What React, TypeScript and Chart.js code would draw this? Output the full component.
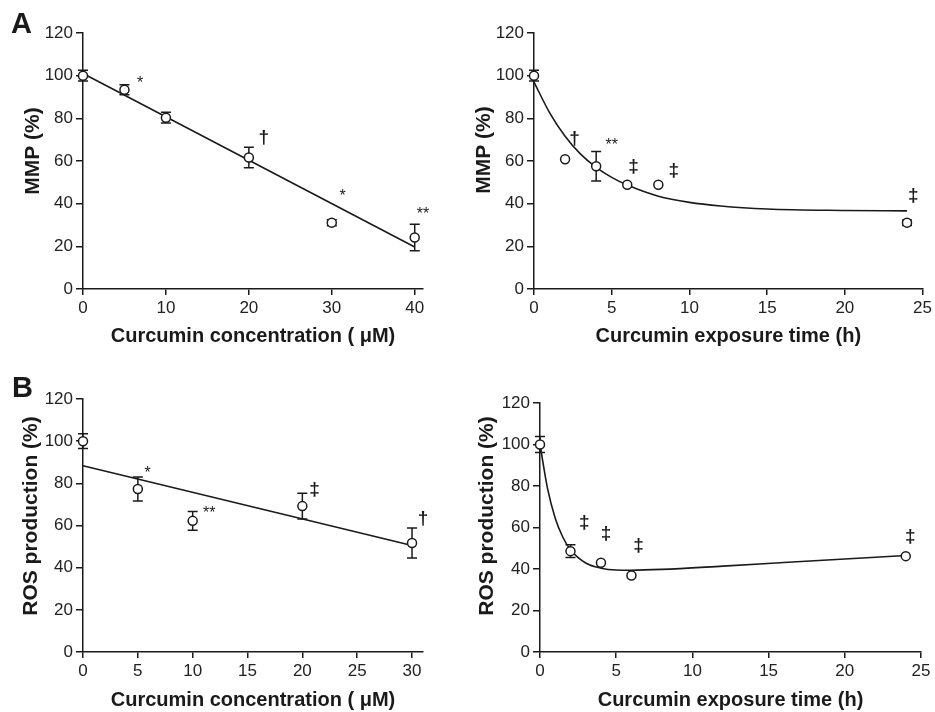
import React, { useEffect, useRef } from "react";
import { Chart, registerables } from "chart.js";

Chart.register(...registerables);

const FONT = '"Liberation Sans", Arial, Helvetica, sans-serif';
const INK = "#1a1a1a";

// ---- Panel A (left): MMP vs curcumin concentration ----
const concA = [0, 5, 10, 20, 30, 40];
const mmpConc = [100, 93.4, 80.3, 61.6, 31.1, 24.1];
const mmpConcErr = [2.5, 2.4, 2.5, 4.8, 1.4, 6.2];
const mmpConcFitX = [0, 40];
const mmpConcFitY = [101, 19.7];
const mmpConcMarkText = ["*", "†", "*", "**"];
const mmpConcMarkX = [6.9, 21.8, 31.3, 41];
const mmpConcMarkY = [96.2, 71, 43.4, 35];

// ---- Panel A (right): MMP vs exposure time ----
const timeA = [0, 2, 4, 6, 8, 24];
const mmpTime = [100, 60.8, 57.5, 48.9, 48.9, 31.1];
const mmpTimeErr = [2.5, 0, 6.9, 0, 0, 1.3];
const mmpTimeFitX = [0, 1, 2, 3, 4, 5, 6, 8, 10, 12, 15, 20, 24];
const mmpTimeFitY = [97, 82.7, 71.6, 63.2, 57.0, 52.3, 48.7, 43.5, 40.6, 38.9, 37.5, 36.8, 36.6];
const mmpTimeMarkText = ["†", "**", "‡", "‡", "‡"];
const mmpTimeMarkX = [2.6, 5.0, 6.4, 9.0, 24.4];
const mmpTimeMarkY = [70.5, 67.3, 57.2, 55.2, 43.9];

// ---- Panel B (left): ROS vs curcumin concentration ----
const concB = [0, 5, 10, 20, 30];
const rosConc = [100, 77.3, 62.2, 69.2, 51.7];
const rosConcErr = [3.5, 5.7, 4.4, 6.1, 7.1];
const rosConcFitX = [0, 30];
const rosConcFitY = [88.3, 50.5];
const rosConcMarkText = ["*", "**", "‡", "†"];
const rosConcMarkX = [5.9, 11.5, 21.1, 31.0];
const rosConcMarkY = [84.8, 65.7, 77, 63.3];

// ---- Panel B (right): ROS vs exposure time ----
const timeB = [0, 2, 4, 6, 24];
const rosTime = [100, 48.6, 43.0, 36.9, 46.2];
const rosTimeErr = [3.8, 3.1, 0, 0, 0];
const rosTimeFitX = [0, 0.5, 1, 1.5, 2, 3, 4, 5, 6, 8, 12, 16, 20, 24];
const rosTimeFitY = [100, 78.6, 64.5, 55.3, 49.3, 42.9, 40.4, 39.5, 39.4, 39.8, 41.4, 43.1, 44.8, 46.5];
const rosTimeMarkText = ["‡", "‡", "‡", "‡"];
const rosTimeMarkX = [2.9, 4.33, 6.46, 24.3];
const rosTimeMarkY = [62.3, 57, 51, 55.7];

// tick settings
const yTickMax = 120;
const yTickStep = 20;

const errorBarsPlugin = {
  id: "errorBars",
  beforeDatasetsDraw(chart: any, _args: any, opts: any) {
    const errs = opts.errors;
    if (!errs) return;
    const meta = chart.getDatasetMeta(0);
    const pts = chart.data.datasets[0].data;
    const ys = chart.scales.y;
    const ctx = chart.ctx;
    ctx.save();
    ctx.strokeStyle = INK;
    ctx.lineWidth = 1.5;
    meta.data.forEach((el: any, i: number) => {
      const e = errs[i];
      if (!e) return;
      const v = pts[i].y;
      const x = el.x;
      const y1 = ys.getPixelForValue(v + e);
      const y2 = ys.getPixelForValue(v - e);
      ctx.beginPath();
      ctx.moveTo(x, y1);
      ctx.lineTo(x, y2);
      ctx.moveTo(x - 5, y1);
      ctx.lineTo(x + 5, y1);
      ctx.moveTo(x - 5, y2);
      ctx.lineTo(x + 5, y2);
      ctx.stroke();
    });
    ctx.restore();
  },
};

const marksPlugin = {
  id: "marks",
  afterDatasetsDraw(chart: any, _args: any, opts: any) {
    const { text, xs, ys } = opts;
    if (!text) return;
    const ctx = chart.ctx;
    ctx.save();
    ctx.fillStyle = INK;
    ctx.textAlign = "center";
    ctx.textBaseline = "middle";
    for (let i = 0; i < text.length; i++) {
      const t = text[i];
      const dagger = t.indexOf("†") >= 0 || t.indexOf("‡") >= 0;
      ctx.font = dagger ? `bold 19px ${FONT}` : `16px ${FONT}`;
      const px = chart.scales.x.getPixelForValue(xs[i]);
      const py = chart.scales.y.getPixelForValue(ys[i]);
      ctx.fillText(t, px, py);
    }
    ctx.restore();
  },
};

const panelTextPlugin = {
  id: "panelText",
  afterDraw(chart: any, _args: any, opts: any) {
    const ctx = chart.ctx;
    ctx.save();
    ctx.fillStyle = INK;
    if (opts.letter) {
      ctx.font = `bold 29px ${FONT}`;
      ctx.textAlign = "left";
      ctx.textBaseline = "alphabetic";
      ctx.fillText(opts.letter, opts.letterX, opts.letterY);
    }
    ctx.translate(opts.yTitleX, opts.yTitleY);
    ctx.rotate(-Math.PI / 2);
    ctx.font = `bold 21px ${FONT}`;
    ctx.textAlign = "center";
    ctx.textBaseline = "middle";
    ctx.fillText(opts.yTitle, 0, 0);
    ctx.restore();
  },
};

type Cfg = {
  left: number;
  top: number;
  width: number;
  height: number;
  area: { l: number; r: number; t: number; b: number };
  xMax: number;
  xStep: number;
  xs: number[];
  ys: number[];
  errs: number[];
  fitX: number[];
  fitY: number[];
  markText: string[];
  markX: number[];
  markY: number[];
  xTitle: string;
  xTitlePad: number;
  yTitle: string;
  yTitleX: number;
  yTitleY: number;
  letter?: string;
  letterX?: number;
  letterY?: number;
};

function Panel({ cfg }: { cfg: Cfg }) {
  const ref = useRef<HTMLCanvasElement>(null);
  useEffect(() => {
    const a = cfg.area;
    const axisCommon = {
      grid: { drawOnChartArea: false, drawTicks: true, color: INK, lineWidth: 1.5 },
      border: { display: true, color: INK, width: 1.5 },
    };
    const chart = new Chart(ref.current as HTMLCanvasElement, {
      type: "line",
      data: {
        datasets: [
          {
            data: cfg.xs.map((x, i) => ({ x, y: cfg.ys[i] })),
            showLine: false,
            pointRadius: 4.5,
            pointBorderWidth: 1.5,
            pointBackgroundColor: "#ffffff",
            pointBorderColor: INK,
            order: 0,
            clip: false,
          } as any,
          {
            data: cfg.fitX.map((x, i) => ({ x, y: cfg.fitY[i] })),
            borderColor: INK,
            borderWidth: 1.6,
            pointRadius: 0,
            cubicInterpolationMode: "monotone",
            fill: false,
            order: 1,
            clip: false,
          } as any,
        ],
      },
      options: {
        responsive: false,
        animation: false,
        events: [],
        layout: { padding: { left: 0, top: a.t, right: cfg.width - a.r, bottom: 0 } },
        plugins: {
          legend: { display: false },
          tooltip: { enabled: false },
          errorBars: { errors: cfg.errs },
          marks: { text: cfg.markText, xs: cfg.markX, ys: cfg.markY },
          panelText: {
            letter: cfg.letter,
            letterX: cfg.letterX,
            letterY: cfg.letterY,
            yTitle: cfg.yTitle,
            yTitleX: cfg.yTitleX,
            yTitleY: cfg.yTitleY,
          },
        } as any,
        scales: {
          x: {
            type: "linear",
            min: 0,
            max: cfg.xMax,
            ticks: {
              stepSize: cfg.xStep,
              includeBounds: false,
              font: { family: FONT, size: 17 },
              color: "#222",
              padding: 3,
              maxRotation: 0,
              autoSkip: false,
            },
            grid: { ...axisCommon.grid, tickLength: 6 },
            border: axisCommon.border,
            title: {
              display: true,
              text: cfg.xTitle,
              font: { family: FONT, size: 20, weight: "bold" },
              color: INK,
              padding: { top: 0, bottom: cfg.xTitlePad },
            },
            afterFit: (s: any) => {
              s.height = cfg.height - a.b;
            },
          },
          y: {
            type: "linear",
            min: 0,
            max: yTickMax,
            ticks: {
              stepSize: yTickStep,
              includeBounds: false,
              font: { family: FONT, size: 17 },
              color: "#222",
              padding: 3,
            },
            grid: { ...axisCommon.grid, tickLength: 7 },
            border: axisCommon.border,
            afterFit: (s: any) => {
              s.width = a.l;
            },
          },
        } as any,
      },
      plugins: [errorBarsPlugin, marksPlugin, panelTextPlugin],
    });
    return () => chart.destroy();
  }, [cfg]);
  return (
    <canvas
      ref={ref}
      width={cfg.width}
      height={cfg.height}
      style={{ position: "absolute", left: cfg.left, top: cfg.top, width: cfg.width, height: cfg.height }}
    />
  );
}

const panels: Cfg[] = [
  {
    left: 0, top: 0, width: 467, height: 356,
    area: { l: 83, r: 423, t: 33, b: 289 },
    xMax: 41, xStep: 10,
    xs: concA, ys: mmpConc, errs: mmpConcErr, fitX: mmpConcFitX, fitY: mmpConcFitY,
    markText: mmpConcMarkText, markX: mmpConcMarkX, markY: mmpConcMarkY,
    xTitle: "Curcumin concentration ( μM)", xTitlePad: 8,
    yTitle: "MMP (%)", yTitleX: 33, yTitleY: 151,
    letter: "A", letterX: 11, letterY: 33,
  },
  {
    left: 467, top: 0, width: 468, height: 356,
    area: { l: 67, r: 458, t: 33, b: 289 },
    xMax: 25, xStep: 5,
    xs: timeA, ys: mmpTime, errs: mmpTimeErr, fitX: mmpTimeFitX, fitY: mmpTimeFitY,
    markText: mmpTimeMarkText, markX: mmpTimeMarkX, markY: mmpTimeMarkY,
    xTitle: "Curcumin exposure time (h)", xTitlePad: 8,
    yTitle: "MMP (%)", yTitleX: 17, yTitleY: 150,
  },
  {
    left: 0, top: 356, width: 467, height: 356,
    area: { l: 83, r: 423, t: 43, b: 296 },
    xMax: 31, xStep: 5,
    xs: concB, ys: rosConc, errs: rosConcErr, fitX: rosConcFitX, fitY: rosConcFitY,
    markText: rosConcMarkText, markX: rosConcMarkX, markY: rosConcMarkY,
    xTitle: "Curcumin concentration ( μM)", xTitlePad: 0,
    yTitle: "ROS production (%)", yTitleX: 31, yTitleY: 160,
    letter: "B", letterX: 12, letterY: 41,
  },
  {
    left: 467, top: 356, width: 468, height: 356,
    area: { l: 73, r: 454, t: 47, b: 296 },
    xMax: 25, xStep: 5,
    xs: timeB, ys: rosTime, errs: rosTimeErr, fitX: rosTimeFitX, fitY: rosTimeFitY,
    markText: rosTimeMarkText, markX: rosTimeMarkX, markY: rosTimeMarkY,
    xTitle: "Curcumin exposure time (h)", xTitlePad: 0,
    yTitle: "ROS production (%)", yTitleX: 20, yTitleY: 160,
  },
];

export default function App() {
  return (
    <div style={{ position: "absolute", left: 0, top: 0, width: 935, height: 712, background: "#fff", overflow: "hidden" }}>
      {panels.map((p, i) => (
        <Panel key={i} cfg={p} />
      ))}
    </div>
  );
}
